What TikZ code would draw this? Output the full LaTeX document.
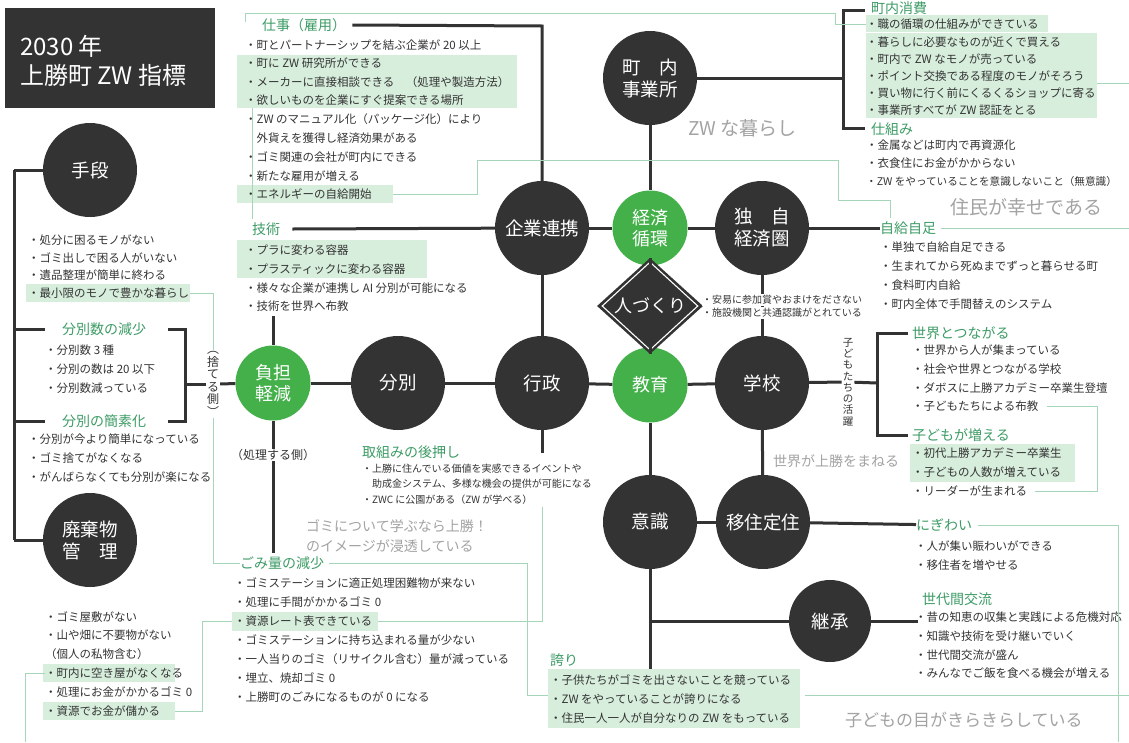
\documentclass[tikz,border=0pt]{standalone}
\usepackage{fontspec}
\setmainfont{Noto Sans CJK JP}
\usetikzlibrary{shapes.geometric,calc}
\definecolor{dk}{HTML}{333333}
\definecolor{grn}{HTML}{43B04A}
\definecolor{gtit}{HTML}{3D9C66}
\definecolor{hlg}{HTML}{D7EEDC}
\definecolor{lgl}{HTML}{A6D6BA}
\definecolor{gtx}{HTML}{A3A3A3}
\definecolor{txt}{HTML}{333333}
\tikzset{
  dkc/.style={circle, fill=dk, text=white, minimum size=94pt, inner sep=0pt, align=center, font=\fontsize{18.5}{22}\selectfont},
  grc/.style={circle, fill=grn, text=white, minimum size=75pt, inner sep=0pt, align=center, font=\fontsize{18}{21}\selectfont},
  bt/.style={anchor=west, inner sep=0pt, text=txt, font=\fontsize{11.5}{13}\selectfont},
  st/.style={anchor=west, inner sep=0pt, text=txt, font=\fontsize{10}{12}\selectfont},
  ttl/.style={anchor=west, inner sep=0pt, text=gtit, font=\fontsize{14}{16}\selectfont},
  gry/.style={inner sep=0pt, text=gtx, font=\fontsize{19}{22}\selectfont, align=left},
  gryS/.style={inner sep=0pt, text=gtx, font=\fontsize{14}{20}\selectfont, align=left},
  conn/.style={draw=dk, line width=3pt},
  lg/.style={draw=lgl, line width=1pt},
  hl/.style={fill=hlg},
}
\newcommand\bu[4]{\node[bt] (#1) at (#2,#3) {#4};}
\begin{document}
\begin{tikzpicture}[x=1pt,y=-1pt]
\useasboundingbox[fill=white] (0,0) rectangle (1129,742);

% ---------- highlights ----------
\fill[hl] (237,55) rectangle (517,108);
\fill[hl] (237,185) rectangle (393,203);
\fill[hl] (237,240) rectangle (427,278);
\fill[hl] (866,15) rectangle (1048,32);
\fill[hl] (866,33) rectangle (1097,118);
\fill[hl] (910,444) rectangle (1075,482);
\fill[hl] (26,284) rectangle (190,302);
\fill[hl] (43,664) rectangle (175,682);
\fill[hl] (43,702) rectangle (175,720);
\fill[hl] (232,612) rectangle (378,631);
\fill[hl] (548,669) rectangle (800,728);

% ---------- title ----------
\node[fill=dk, minimum width=210pt, minimum height=100pt, anchor=north west, inner sep=0pt] (title) at (5,8) {};
\node[anchor=west, text=white, inner sep=0pt, align=left, font=\fontsize{24}{29}\selectfont] (titletxt) at (20,61) {2030 年\\上勝町 ZW 指標};

% ---------- circles ----------
\node[dkc] (naiji) at (650,78) {町　内\\事業所};
\node[dkc] (kigyo) at (542,228) {企業連携};
\node[grc] (keizai) at (650,228) {経済\\循環};
\node[dkc] (dokuji) at (762,228) {独　自\\経済圏};
\node[grc] (futan) at (273,383) {負担\\軽減};
\node[dkc] (bunbetsu) at (398,383) {分別};
\node[dkc] (gyosei) at (542,383) {行政};
\node[grc] (kyoiku) at (650,385) {教育};
\node[dkc] (gakko) at (762,383) {学校};
\node[dkc] (ishiki) at (650,522) {意識};
\node[dkc] (iju) at (763,522) {移住定住};
\node[dkc, minimum size=82pt] (keisho) at (830,621) {継承};
\node[dkc] (shudan) at (90,170) {手段};
\node[dkc] (haiki) at (90,540) {廃棄物\\管　理};
\node[diamond, fill=dk, minimum width=106pt, minimum height=96pt, inner sep=0pt] (hd) at (650,306) {};
\node[diamond, draw=white, line width=1.1pt, minimum width=96pt, minimum height=86pt, inner sep=0pt, text=white, font=\fontsize{18}{20}\selectfont] (hdi) at (650,306) {人づくり};

% lines running behind text
\draw[conn] (dokuji) -- (gakko);
\draw[conn] (gakko) -- (iju);

% ---------- vertical labels ----------
\node[inner sep=1pt, fill=white, align=center, text=txt, font=\fontsize{12}{12.5}\selectfont] (sute) at (213,384) {︵\\捨\\て\\る\\側\\︶};
\node[inner sep=1pt, fill=white, align=center, text=txt, font=\fontsize{10.5}{11.3}\selectfont] (katsu) at (848,382) {子\\ど\\も\\た\\ち\\の\\活\\躍};
\node[bt, anchor=center, font=\fontsize{12}{14}\selectfont] (shori) at (273,455) {（処理する側）};

% ---------- gray statements ----------
\node[gry, anchor=west] (gA) at (688,128) {ZW な暮らし};
\node[gry, anchor=west] (gB) at (950,207) {住民が幸せである};
\node[gryS, anchor=west] (gC) at (773,461) {世界が上勝をまねる};
\node[gryS, anchor=west] (gD) at (306,536) {ゴミについて学ぶなら上勝！\\のイメージが浸透している};
\node[gry, anchor=west, font=\fontsize{17}{20}\selectfont] (gE) at (845,720) {子どもの目がきらきらしている};

% ---------- 仕事 ----------
\node[ttl] (shigoto) at (262,25) {仕事（雇用）};
\bu{s1}{245}{45}{・町とパートナーシップを結ぶ企業が 20 以上}
\bu{s2}{245}{63}{・町に ZW 研究所ができる}
\bu{s3}{245}{82}{・メーカーに直接相談できる　（処理や製造方法）}
\bu{s4}{245}{100}{・欲しいものを企業にすぐ提案できる場所}
\bu{s5}{245}{119}{・ZW のマニュアル化（パッケージ化）により}
\bu{s6}{245}{138}{　外貨えを獲得し経済効果がある}
\bu{s7}{245}{157}{・ゴミ関連の会社が町内にできる}
\bu{s8}{245}{176}{・新たな雇用が増える}
\bu{s9}{245}{194}{・エネルギーの自給開始}
% ---------- 技術 ----------
\node[ttl] (gijutsu) at (252,229) {技術};
\bu{k1}{245}{250}{・プラに変わる容器}
\bu{k2}{245}{269}{・プラスティックに変わる容器}
\bu{k3}{245}{288}{・様々な企業が連携し AI 分別が可能になる}
\bu{k4}{245}{306}{・技術を世界へ布教}

% ---------- 町内消費 ----------
\node[ttl] (chonai) at (871,8) {町内消費};
\bu{c1}{866}{24}{・職の循環の仕組みができている}
\bu{c2}{866}{42}{・暮らしに必要なものが近くで買える}
\bu{c3}{866}{59}{・町内で ZW なモノが売っている}
\bu{c4}{866}{76}{・ポイント交換である程度のモノがそろう}
\bu{c5}{866}{93}{・買い物に行く前にくるくるショップに寄る}
\bu{c6}{866}{110}{・事業所すべてが ZW 認証をとる}
\node[ttl] (shikumi) at (871,129) {仕組み};
\bu{m1}{866}{145}{・金属などは町内で再資源化}
\bu{m2}{866}{163}{・衣食住にお金がかからない}
\node[bt, font=\fontsize{10.6}{13}\selectfont] (m3) at (866,181) {・ZW をやっていることを意識しないこと（無意識）};

% ---------- 自給自足 ----------
\node[ttl] (jikyu) at (880,228) {自給自足};
\bu{j1}{880}{247}{・単独で自給自足できる}
\bu{j2}{880}{266}{・生まれてから死ぬまでずっと暮らせる町}
\bu{j3}{880}{285}{・食料町内自給}
\bu{j4}{880}{304}{・町内全体で手間替えのシステム}
\node[st, fill=white, inner ysep=1pt] (h1) at (702,300) {・安易に参加賞やおまけをださない};
\node[st, fill=white, inner ysep=1pt] (h2) at (702,313) {・施設機関と共通認識がとれている};

% ---------- 世界とつながる ----------
\node[ttl] (sekai) at (912,333) {世界とつながる};
\bu{w1}{912}{350}{・世界から人が集まっている}
\bu{w2}{912}{369}{・社会や世界とつながる学校}
\bu{w3}{912}{388}{・ダボスに上勝アカデミー卒業生登壇}
\bu{w4}{912}{406}{・子どもたちによる布教}
\node[ttl] (kodomo) at (912,435) {子どもが増える};
\bu{w5}{912}{453}{・初代上勝アカデミー卒業生}
\bu{w6}{912}{472}{・子どもの人数が増えている}
\bu{w7}{912}{491}{・リーダーが生まれる}

% ---------- にぎわい / 世代間交流 ----------
\node[ttl] (nigi) at (916,525) {にぎわい};
\bu{n1}{915}{546}{・人が集い賑わいができる}
\bu{n2}{915}{565}{・移住者を増やせる}
\node[ttl] (sedai) at (922,599) {世代間交流};
\bu{n3}{915}{617}{・昔の知恵の収集と実践による危機対応}
\bu{n4}{915}{636}{・知識や技術を受け継いでいく}
\bu{n5}{915}{655}{・世代間交流が盛ん}
\bu{n6}{915}{673}{・みんなでご飯を食べる機会が増える}

% ---------- 誇り ----------
\node[ttl] (hokori) at (550,660) {誇り};
\bu{p1}{550}{680}{・子供たちがゴミを出さないことを競っている}
\bu{p2}{550}{699}{・ZW をやっていることが誇りになる}
\bu{p3}{550}{718}{・住民一人一人が自分なりの ZW をもっている}

% ---------- 取組みの後押し ----------
\node[ttl] (atoshi) at (362,452) {取組みの後押し};
\node[st] (a1) at (362,469) {・上勝に住んでいる価値を実感できるイベントや};
\node[st] (a2) at (362,484) {　助成金システム、多様な機会の提供が可能になる};
\node[st] (a3) at (362,500) {・ZWC に公園がある（ZW が学べる）};

% ---------- ごみ量の減少 ----------
\node[ttl] (gomi) at (240,563) {ごみ量の減少};
\bu{r1}{234}{583}{・ゴミステーションに適正処理困難物が来ない}
\bu{r2}{234}{602}{・処理に手間がかかるゴミ 0}
\bu{r3}{234}{621}{・資源レート表できている}
\bu{r4}{234}{640}{・ゴミステーションに持ち込まれる量が少ない}
\bu{r5}{234}{659}{・一人当りのゴミ（リサイクル含む）量が減っている}
\bu{r6}{234}{678}{・埋立、焼却ゴミ 0}
\bu{r7}{234}{697}{・上勝町のごみになるものが 0 になる}

% ---------- 手段 ----------
\bu{t1}{28}{240}{・処分に困るモノがない}
\bu{t2}{28}{258}{・ゴミ出しで困る人がいない}
\bu{t3}{28}{275}{・遺品整理が簡単に終わる}
\bu{t4}{28}{293}{・最小限のモノで豊かな暮らし}
\node[ttl] (bgen) at (62,329) {分別数の減少};
\bu{b1}{45}{350}{・分別数 3 種}
\bu{b2}{45}{369}{・分別の数は 20 以下}
\bu{b3}{45}{388}{・分別数減っている}
\node[ttl] (bkan) at (62,421) {分別の簡素化};
\bu{b4}{28}{439}{・分別が今より簡単になっている}
\bu{b5}{28}{458}{・ゴミ捨てがなくなる}
\bu{b6}{28}{477}{・がんばらなくても分別が楽になる}

% ---------- 廃棄物管理 ----------
\bu{d1}{45}{617}{・ゴミ屋敷がない}
\bu{d2}{45}{635}{・山や畑に不要物がない}
\bu{d3}{45}{654}{（個人の私物含む）}
\bu{d4}{45}{673}{・町内に空き屋がなくなる}
\bu{d5}{45}{692}{・処理にお金がかかるゴミ 0}
\bu{d6}{45}{711}{・資源でお金が儲かる}

% ---------- coordinates ----------
\coordinate (L0) at (14,170);
\coordinate (L1) at (14,329);
\coordinate (L2) at (14,421);
\coordinate (L3) at (14,540);
\coordinate (B1) at (168,329);
\coordinate (B2) at (185,329);
\coordinate (B3) at (185,421);
\coordinate (B4) at (168,421);
\coordinate (Bm) at (185,384);
\coordinate (SJ) at (542,26);
\coordinate (futanTop) at (273,316);
\coordinate (futanBot) at (273,553);
\coordinate (gyoBot) at (542,453);
\coordinate (NB) at (843,78);
\coordinate (NB1) at (843,10);
\coordinate (NB2) at (843,128);
\coordinate (GB) at (877,383);
\coordinate (GB1) at (877,333);
\coordinate (GB2) at (877,435);
\coordinate (IS1) at (650,669);
\coordinate (IS2) at (650,621);

% ---------- dark connectors ----------
\draw[conn] (L0) -- (L3);
\draw[conn] (L0) -- (shudan);
\draw[conn] (L3) -- (haiki);
\draw[conn] (L1) -- (45,329);
\draw[conn] (L2) -- (45,421);
\draw[conn] (B1) -- (B2) -- (B3) -- (B4);
\draw[conn] (Bm) -- (sute);
\draw[conn] (sute) -- (futan);
\draw[conn] (futanTop) -- (futan);
\draw[conn] (futan) -- (shori);
\draw[conn] (shori) -- (futanBot);
\draw[conn] (futan) -- (bunbetsu);
\draw[conn] (bunbetsu) -- (gyosei);
\draw[conn] (gyosei) -- (kyoiku);
\draw[conn] (kyoiku) -- (gakko);
\draw[conn] ($(shigoto.east)+(6,0)$) -- (SJ) -- (kigyo);
\draw[conn] ($(gijutsu.east)+(12,0)$) -- (kigyo);
\draw[conn] (kigyo) -- (keizai);
\draw[conn] (keizai) -- (dokuji);
\draw[conn] (kigyo) -- (gyosei);
\draw[conn] (gyosei) -- (gyoBot);
\draw[conn] (naiji) -- (keizai);
\draw[conn] (keizai) -- (hd);
\draw[conn] (hd) -- (kyoiku);
\draw[conn] (kyoiku) -- (ishiki);
\draw[conn] (ishiki) -- (iju);
\draw[conn] (ishiki) -- (IS1);
\draw[conn] (IS2) -- (keisho);
\draw[conn] (keisho) -- ($(keisho.east)+(47,0)$);
\draw[conn] (iju) -- (nigi);
\draw[conn] (naiji) -- (NB);
\draw[conn] (865,10) -- (NB1) -- (NB2) -- (865,128);
\draw[conn] (dokuji) -- (jikyu);
\draw[conn] (gakko) -- (katsu);
\draw[conn] (katsu) -- (GB);
\draw[conn] (908,333) -- (GB1) -- (GB2) -- (908,435);

% ---------- light green connectors ----------
\draw[lg] (245,22) -- (245,13) -- (835,13) -- (835,24) -- (c1.west);
\draw[lg] (1097,83) -- (1129,83);
\draw[lg] (393,194) -- (477,194) -- (477,160) -- (838,160) -- (838,200) -- (890,200) -- (890,218);
\draw[lg] ($(jikyu.east)+(5,0)$) -- (1129,228);
\draw[lg] (252,108) -- (252,219);
\draw[lg] (190,293) -- (213,293) -- (sute.north);
\draw[lg] (sute.south) -- (213,563) -- (gomi.west);
\draw[lg] ($(gomi.east)+(5,0)$) -- (527,563) -- (527,695) -- (548,695);
\draw[lg] (378,621) -- (542,621) -- (542,507);
\draw[lg] (175,711) -- (202,711) -- (202,621) -- (232,621);
\draw[lg] (d4.west) -- (25,673) -- (25,742);
\draw[lg] ($(w4.east)+(8,0)$) -- (1097,406) -- (1097,491) -- ($(w7.east)+(8,0)$);
\draw[lg] ($(nigi.east)+(6,0)$) -- (1118,525) -- (1118,742);
\draw[lg] (805,695) -- (1129,695);
\end{tikzpicture}
\end{document}
